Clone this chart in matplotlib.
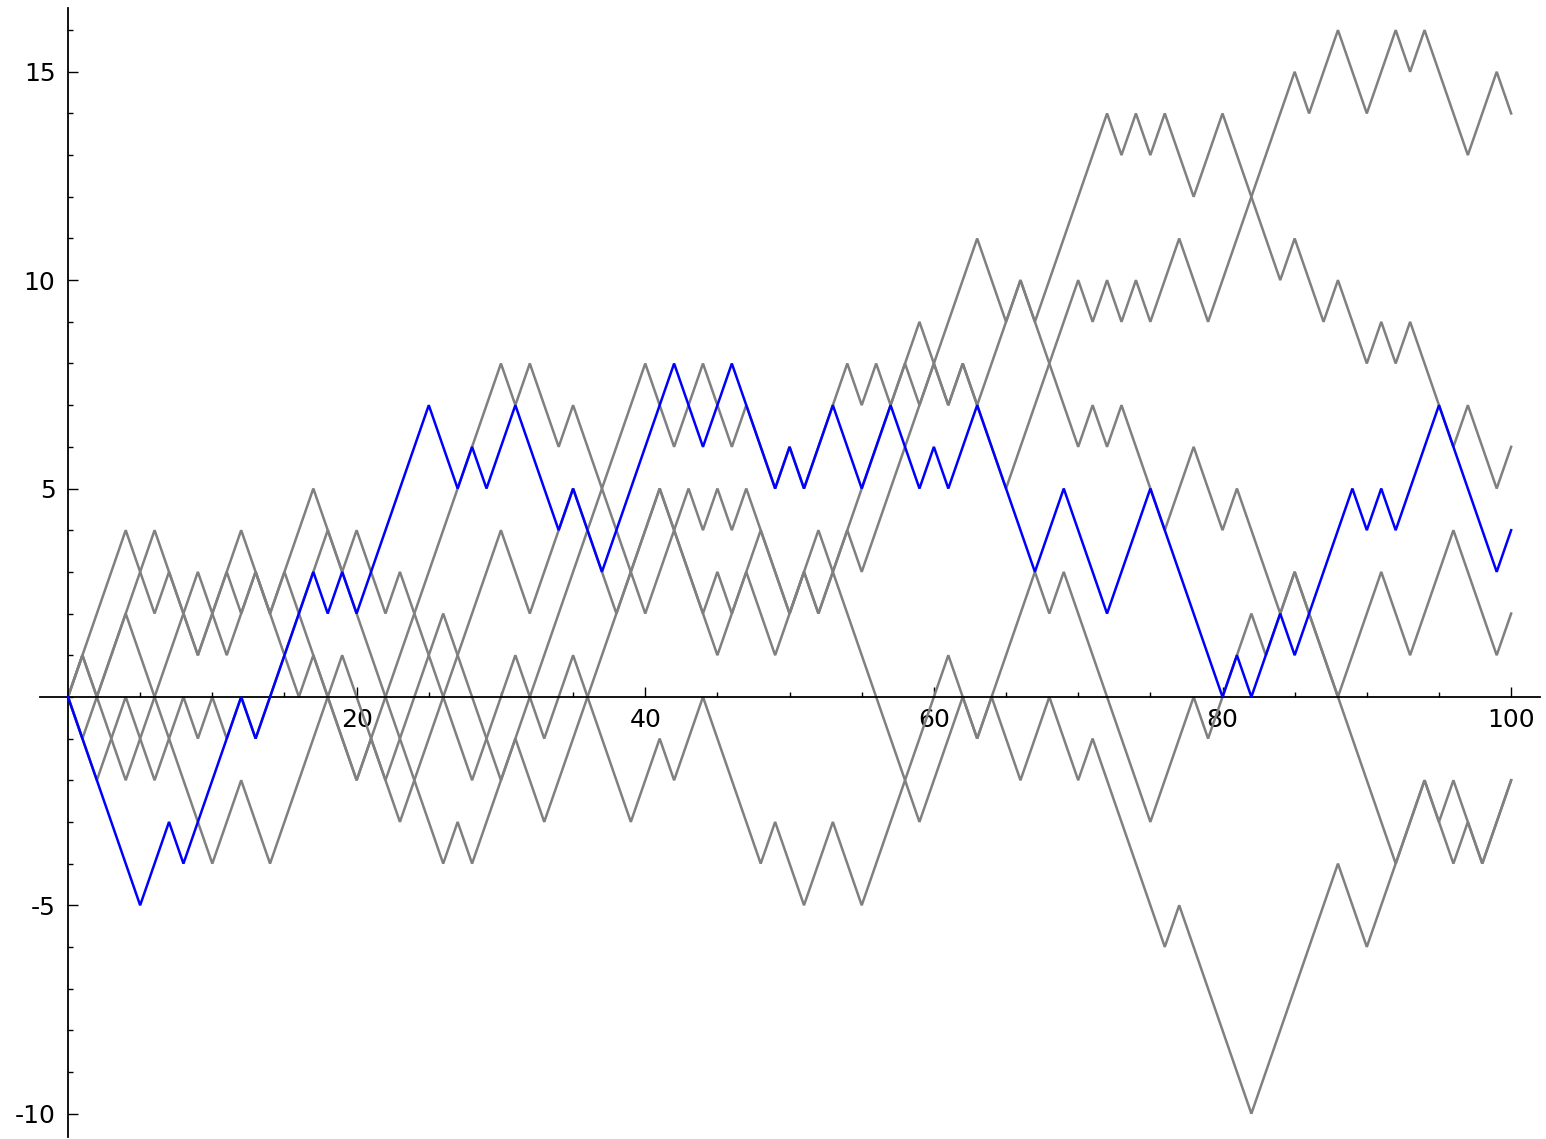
import matplotlib
matplotlib.use("Agg")
import matplotlib.pyplot as plt
from matplotlib.ticker import MultipleLocator, FixedLocator

plt.rcParams["axes.unicode_minus"] = False

# turning points (step, position) of each walk
walk_a = [(0, 0), (4, 4), (6, 2), (7, 3), (9, 1), (11, 3), (12, 2), (13, 3), (14, 2), (17, 5),
          (19, 3), (20, 4), (22, 2), (23, 3), (28, -2), (31, 1), (33, -1), (35, 1), (39, -3),
          (41, -1), (42, -2), (44, 0), (48, -4), (49, -3), (51, -5), (53, -3), (55, -5), (61, 1),
          (63, -1), (67, 3), (68, 2), (69, 3), (75, -3), (78, 0), (79, -1), (82, 2), (83, 1),
          (84, 2), (85, 3), (88, 0), (91, 3), (93, 1), (96, 4), (99, 1), (100, 2)]

walk_b = [(0, 0), (1, 1), (2, 0), (6, 4), (7, 3), (9, 1), (11, 3), (12, 4), (16, 0), (17, 1),
          (18, 0), (20, -2), (30, 8), (31, 7), (32, 8), (34, 6), (35, 7), (40, 2), (42, 4),
          (43, 5), (44, 4), (45, 5), (46, 4), (47, 5), (50, 2), (51, 3), (52, 2), (54, 4),
          (55, 3), (63, 11), (65, 9), (66, 10), (67, 9), (72, 14), (73, 13), (74, 14), (75, 13),
          (76, 14), (78, 12), (80, 14), (82, 12), (84, 10), (85, 11), (87, 9), (88, 10), (90, 8),
          (91, 9), (92, 8), (93, 9), (95, 7), (96, 6), (97, 7), (99, 5), (100, 6)]

walk_c = [(0, 0), (1, 1), (2, 0), (4, 2), (6, 0), (10, -4), (12, -2), (14, -4), (19, 1),
          (23, -3), (30, 4), (32, 2), (35, 5), (37, 3), (38, 2), (41, 5), (42, 4), (44, 2),
          (45, 3), (46, 2), (47, 3), (49, 1), (51, 3), (52, 2), (59, 9), (61, 7), (62, 8),
          (63, 7), (65, 9), (66, 10), (67, 9), (70, 6), (71, 7), (72, 6), (73, 7), (75, 5),
          (76, 4), (78, 6), (80, 4), (81, 5), (84, 2), (85, 3), (88, 0), (92, -4), (94, -2),
          (95, -3), (96, -2), (98, -4), (100, -2)]

walk_d = [(0, 0), (2, -2), (4, 0), (6, -2), (8, 0), (9, -1), (10, 0), (11, -1), (12, 0),
          (13, -1), (17, 3), (18, 4), (19, 3), (20, 2), (26, -4), (27, -3), (28, -4), (40, 8),
          (42, 6), (44, 8), (46, 6), (47, 7), (49, 5), (50, 6), (51, 5), (53, 7), (54, 8),
          (55, 7), (56, 8), (57, 7), (58, 8), (59, 7), (60, 8), (61, 7), (62, 8), (63, 7),
          (65, 5), (70, 10), (71, 9), (72, 10), (73, 9), (74, 10), (75, 9), (77, 11), (79, 9),
          (82, 12), (85, 15), (86, 14), (88, 16), (90, 14), (92, 16), (93, 15), (94, 16),
          (97, 13), (99, 15), (100, 14)]

walk_e = [(0, 0), (1, -1), (2, 0), (4, -2), (6, 0), (9, 3), (11, 1), (13, 3), (14, 2), (15, 3),
          (17, 1), (18, 0), (20, -2), (21, -1), (22, -2), (26, 2), (30, -2), (31, -1), (33, -3),
          (41, 5), (42, 4), (45, 1), (48, 4), (50, 2), (52, 4), (59, -3), (62, 0), (63, -1),
          (64, 0), (66, -2), (68, 0), (70, -2), (71, -1), (76, -6), (77, -5), (82, -10),
          (88, -4), (90, -6), (92, -4), (94, -2), (96, -4), (97, -3), (98, -4), (100, -2)]

highlighted = [(0, 0), (5, -5), (7, -3), (8, -4), (12, 0), (13, -1), (17, 3), (18, 2), (19, 3),
               (20, 2), (25, 7), (27, 5), (28, 6), (29, 5), (31, 7), (34, 4), (35, 5), (37, 3),
               (42, 8), (44, 6), (46, 8), (49, 5), (50, 6), (51, 5), (53, 7), (55, 5), (57, 7),
               (59, 5), (60, 6), (61, 5), (63, 7), (67, 3), (69, 5), (72, 2), (75, 5), (80, 0),
               (81, 1), (82, 0), (84, 2), (85, 1), (89, 5), (90, 4), (91, 5), (92, 4), (95, 7),
               (99, 3), (100, 4)]

x_labels = [20, 40, 60, 80, 100]
y_labels = [-10, -5, 5, 10, 15]

W, H = 1546, 1139
fig = plt.figure(figsize=(W / 100, H / 100), dpi=100)
ax = fig.add_axes([40 / W, 1 - 1137 / H, 1500 / W, 1129 / H])

for walk in [walk_a, walk_b, walk_c, walk_d, walk_e]:
    xs, ys = zip(*walk)
    ax.plot(xs, ys, color="#808080", lw=1.8, solid_joinstyle="miter", zorder=2)

xs, ys = zip(*highlighted)
ax.plot(xs, ys, color="#0000ff", lw=1.8, solid_joinstyle="miter", zorder=3)

ax.set_xlim(-1.94, 102.0)
ax.set_ylim(-10.56, 16.53)

# axes crossing at the origin
ax.spines["left"].set_position(("data", 0))
ax.spines["bottom"].set_position(("data", 0))
ax.spines["top"].set_visible(False)
ax.spines["right"].set_visible(False)
for side in ["left", "bottom"]:
    ax.spines[side].set_linewidth(1.3)

ax.xaxis.set_major_locator(FixedLocator(x_labels))
ax.xaxis.set_minor_locator(MultipleLocator(5))
ax.yaxis.set_major_locator(FixedLocator(y_labels))
ax.yaxis.set_minor_locator(MultipleLocator(1))

ax.tick_params(axis="both", which="major", direction="in", length=7, width=1,
               labelsize=18, colors="black")
ax.tick_params(axis="both", which="minor", direction="in", length=3.5, width=1)
ax.tick_params(axis="x", which="major", pad=8)
ax.tick_params(axis="y", which="major", pad=9)

fig.savefig("out.png", dpi=100)
